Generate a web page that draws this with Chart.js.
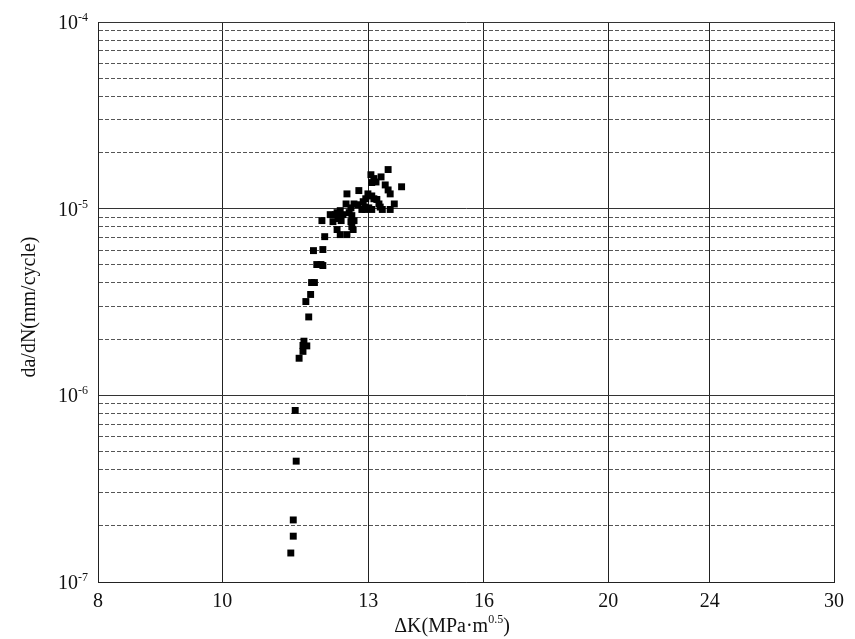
<!DOCTYPE html>
<html>
<head>
<meta charset="utf-8">
<script src="https://cdn.jsdelivr.net/npm/chart.js@4.4.0/dist/chart.umd.min.js"></script>
<style>
  html, body { margin: 0; padding: 0; background: #fff; }
</style>
</head>
<body>
<canvas id="myChart" width="855" height="639"></canvas>
<script>
// data
const deltaK = [
  11.31, 11.36, 11.36, 11.42, 11.40, 11.48, 11.56, 11.64, 11.56, 11.58,
  11.68, 11.62, 11.72, 11.74, 11.80, 11.85, 11.94, 11.98, 11.78, 11.98,
  11.96, 12.02, 12.14, 12.25, 12.20, 12.29, 12.36, 12.42, 12.31, 12.38,
  12.29, 12.36, 12.51, 12.49, 12.51, 12.56, 12.60, 12.62, 12.67, 12.60,
  12.62, 12.65, 12.67, 12.76, 12.78, 12.88, 12.92, 12.85, 12.94, 13.01,
  13.08, 12.99, 12.94, 13.08, 13.13, 13.20, 13.25, 13.28, 13.33, 13.62,
  13.52, 13.40, 13.47, 13.52, 13.80, 13.08, 13.18, 13.06, 13.13, 13.30,
  13.47
];
const crackRate = [
  1.43e-7, 1.76e-7, 2.15e-7, 4.44e-7, 8.3e-7, 1.58e-6, 1.72e-6, 1.84e-6, 1.85e-6, 1.95e-6,
  2.63e-6, 3.18e-6, 3.47e-6, 4.02e-6, 4.02e-6, 5.02e-6, 5.02e-6, 4.96e-6, 5.96e-6, 6.04e-6,
  8.63e-6, 7.08e-6, 9.29e-6, 9.29e-6, 8.52e-6, 9.52e-6, 9.76e-6, 9.29e-6, 8.85e-6, 8.63e-6,
  7.73e-6, 7.26e-6, 7.26e-6, 1.06e-5, 1.20e-5, 9.52e-6, 1.01e-5, 9.18e-6, 8.63e-6, 8.52e-6,
  8.01e-6, 7.73e-6, 1.06e-5, 1.05e-5, 1.25e-5, 1.09e-5, 1.02e-5, 9.9e-6, 9.9e-6, 1.01e-5,
  9.9e-6, 1.20e-5, 1.13e-5, 1.17e-5, 1.13e-5, 1.12e-5, 1.06e-5, 1.02e-5, 9.9e-6, 1.06e-5,
  9.9e-6, 1.34e-5, 1.26e-5, 1.20e-5, 1.31e-5, 1.38e-5, 1.39e-5, 1.52e-5, 1.45e-5, 1.48e-5,
  1.62e-5
];
const xTicks = [8, 10, 13, 16, 20, 24, 30];
const yDecades = [1e-7, 1e-6, 1e-5, 1e-4];
const yExponents = ["-7", "-6", "-5", "-4"];
const minorSteps = [2, 3, 4, 5, 6, 7, 8, 9];
const xTitle = ["\u0394K(MPa\u00b7m", "0.5", ")"];
const yTitle = "da/dN(mm/cycle)";

const serif = '"Liberation Serif", "Times New Roman", serif';

const isDecade = function(v) {
  const l = Math.log10(v);
  return Math.abs(l - Math.round(l)) < 1e-6;
};

//Labels with superscripts are drawn by hand
const labelPlugin = {
  id: "supLabels",
  afterDraw(chart) {
    const c = chart.ctx;
    const area = chart.chartArea;
    const yScale = chart.scales.y;
    c.save();
    c.fillStyle = "#111";
    c.textBaseline = "alphabetic";
    c.textAlign = "left";
    yDecades.forEach((v, i) => {
      const py = yScale.getPixelForValue(v);
      c.font = "12px " + serif;
      const ew = c.measureText(yExponents[i]).width;
      c.font = "20px " + serif;
      const bw = c.measureText("10").width;
      const right = area.left - 10;
      c.fillText("10", right - ew - bw, py + 7);
      c.font = "12px " + serif;
      c.fillText(yExponents[i], right - ew, py - 1);
    });

    // x title
    c.font = "20px " + serif;
    const w1 = c.measureText(xTitle[0]).width;
    const w3 = c.measureText(xTitle[2]).width;
    c.font = "12px " + serif;
    const w2 = c.measureText(xTitle[1]).width;
    const total = w1 + w2 + w3;
    let tx = 452 - total / 2;
    const base = 632;
    c.font = "20px " + serif;
    c.fillText(xTitle[0], tx, base);
    tx += w1;
    c.font = "12px " + serif;
    c.fillText(xTitle[1], tx, base - 9);
    tx += w2;
    c.font = "20px " + serif;
    c.fillText(xTitle[2], tx, base);

    // y title
    c.translate(30, 307);
    c.rotate(-Math.PI / 2);
    c.textAlign = "center";
    c.textBaseline = "middle";
    c.font = "20px " + serif;
    c.fillText(yTitle, 0, 0);
    c.restore();
  }
};

const ctx = document.getElementById("myChart");
const myChart = new Chart(ctx, {
  type: "scatter",
  data: {
    datasets: [{
      data: deltaK.map((x, i) => ({ x: x, y: crackRate[i] })),
      pointStyle: "rect",
      pointRadius: 4.9,
      backgroundColor: "#000",
      borderWidth: 0
    }]
  },
  options: {
    responsive: false,
    animation: false,
    layout: { padding: { top: 22, right: 21, left: 0, bottom: 0 } },
    plugins: {
      legend: { display: false },
      tooltip: { enabled: false }
    },
    scales: {
      x: {
        type: "logarithmic",
        min: 8,
        max: 30,
        afterBuildTicks: (scale) => {
          scale.ticks = xTicks.map(v => ({ value: v }));
        },
        afterFit: (scale) => { scale.height = 57; },
        ticks: {
          autoSkip: false,
          maxRotation: 0,
          padding: 8,
          color: "#111",
          font: { family: serif, size: 20 },
          callback: (v) => String(v)
        },
        grid: { color: "#222", lineWidth: 1, drawTicks: false },
        border: { display: true, color: "#222", width: 1 }
      },
      y: {
        type: "logarithmic",
        min: 1e-7,
        max: 1e-4,
        afterBuildTicks: (scale) => {
          const t = [];
          yDecades.forEach((d, i) => {
            t.push({ value: d });
            if (i < yDecades.length - 1) {
              minorSteps.forEach(m => t.push({ value: d * m }));
            }
          });
          scale.ticks = t;
        },
        afterFit: (scale) => { scale.width = 98; },
        ticks: { display: false },
        grid: {
          drawTicks: false,
          lineWidth: 1,
          color: (c) => (c.tick && isDecade(c.tick.value)) ? "#333" : "#555"
        },
        border: {
          display: true,
          color: "#222",
          width: 1,
          dash: (c) => (!c.tick || isDecade(c.tick.value)) ? [] : [4, 2]
        }
      }
    }
  },
  plugins: [labelPlugin]
});
</script>
</body>
</html>
